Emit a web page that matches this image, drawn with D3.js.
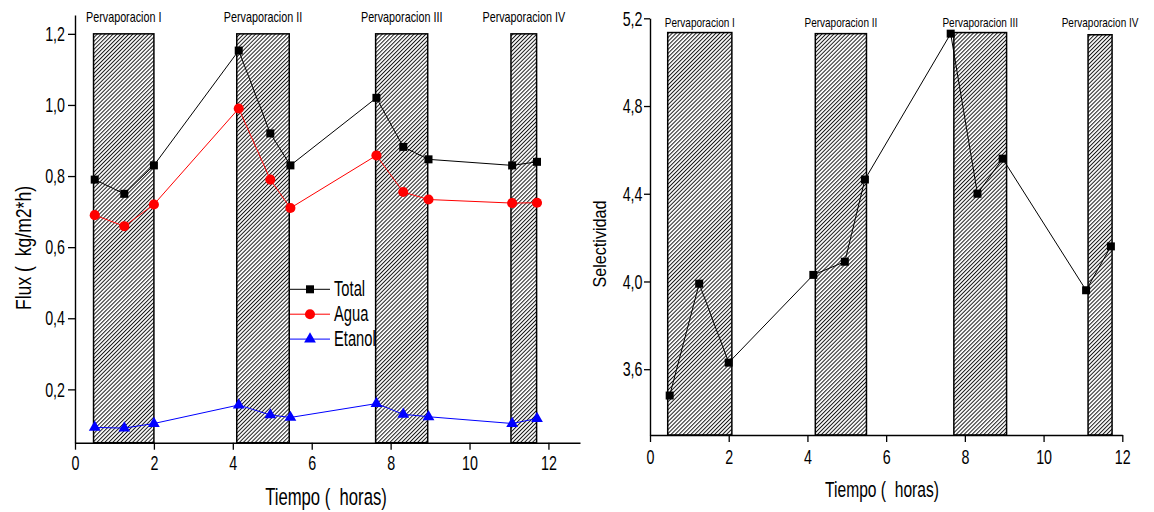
<!DOCTYPE html>
<html>
<head>
<meta charset="utf-8">
<script src="https://cdn.jsdelivr.net/npm/d3@7"></script>
<style>
  body { margin: 0; background: #fff; }
  svg text { font-family: "Liberation Sans", Arial, sans-serif; fill: #000; white-space: pre; }
</style>
</head>
<body>
<svg id="chart" width="1154" height="512"></svg>
<script>
// Sampling times (h) shared by both panels
const tiempo = [0.5, 1.25, 2.0, 4.15, 4.95, 5.46, 7.64, 8.32, 8.96, 11.08, 11.71];
// Permeate flux (kg/m2*h)
const fluxTotal  = [0.79, 0.75, 0.83, 1.153, 0.92, 0.83, 1.02, 0.882, 0.847, 0.83, 0.84];
const fluxAgua   = [0.69, 0.659, 0.72, 0.99, 0.79, 0.71, 0.858, 0.755, 0.734, 0.724, 0.725];
const fluxEtanol = [0.093, 0.091, 0.104, 0.156, 0.128, 0.121, 0.16, 0.13, 0.123, 0.104, 0.118];
// Selectivity
const selectividad = [3.48, 3.99, 3.63, 4.03, 4.09, 4.465, 5.13, 4.40, 4.56, 3.96, 4.16];

// Pervaporation stages (shaded intervals)
const etapas = ["Pervaporacion I", "Pervaporacion II", "Pervaporacion III", "Pervaporacion IV"];
const etapaInicioFlux = [0.47, 4.1, 7.62, 11.05];
const etapaFinFlux    = [2.0, 5.43, 8.94, 11.7];
const etapaTopeFlux   = [1.2, 1.2, 1.2, 1.2];
const etapaInicioSel  = [0.45, 4.2, 7.72, 11.13];
const etapaFinSel     = [2.08, 5.5, 9.06, 11.74];
const etapaTopeSel    = [5.135, 5.13, 5.135, 5.125];

// Ticks
const horasMayor = [0, 2, 4, 6, 8, 10, 12];
const horasMenor = [1, 3, 5, 7, 9, 11];
const fluxMayor = [0.2, 0.4, 0.6, 0.8, 1.0, 1.2];
const fluxMenor = [0.1, 0.3, 0.5, 0.7, 0.9, 1.1];
const selMayor = [3.6, 4.0, 4.4, 4.8, 5.2];
const selMenor = [3.4, 3.8, 4.2, 4.6, 5.0];

const seriesFlux = [
  { nombre: "Total",  valores: fluxTotal,  color: "#000000", marca: "square" },
  { nombre: "Agua",   valores: fluxAgua,   color: "#ff0000", marca: "circle" },
  { nombre: "Etanol", valores: fluxEtanol, color: "#0000ff", marca: "triangle" }
];

const svg = d3.select("#chart");
const coma = d => d3.format(".1f")(d).replace(".", ",");

// hatch fill for the stage intervals
const defs = svg.append("defs");
defs.append("pattern")
  .attr("id", "rayado")
  .attr("patternUnits", "userSpaceOnUse")
  .attr("width", 2.8).attr("height", 10)
  .attr("patternTransform", "rotate(45)")
  .append("line")
  .attr("x1", 0.5).attr("y1", 0).attr("x2", 0.5).attr("y2", 10)
  .attr("stroke", "#1a1a1a").attr("stroke-width", 1.0);

// compress text horizontally (narrow face look), keeping its anchor point
function estrechar(sel, factor) {
  sel.each(function () {
    const x = +(this.getAttribute("x") || 0);
    this.setAttribute("x", x / factor);
    const t = this.getAttribute("transform") || "";
    this.setAttribute("transform", `${t} scale(${factor},1)`.trim());
  });
}

const symbols = {
  square: d3.symbol().type(d3.symbolSquare).size(64),
  circle: d3.symbol().type(d3.symbolCircle).size(80),
  triangle: d3.symbol().type(d3.symbolTriangle).size(60)
};

function dibujarMarca(g, tipo, color, x, y) {
  g.append("path")
    .attr("d", symbols[tipo]())
    .attr("transform", `translate(${x},${y})`)
    .attr("fill", color);
}

function ejes(g, x, y, opts) {
  const fontSize = 21;
  const xg = g.append("g").attr("transform", `translate(0,${y.range()[0]})`);
  xg.call(d3.axisBottom(x).tickValues(horasMenor.filter(v => v <= x.domain()[1])).tickSize(4).tickSizeOuter(0).tickFormat(""));
  xg.call(d3.axisBottom(x).tickValues(horasMayor.filter(v => v <= x.domain()[1])).tickSize(7).tickPadding(opts.xPad).tickSizeOuter(0).tickFormat(d3.format("d")));
  const yg = g.append("g").attr("transform", `translate(${x.range()[0]},0)`);
  yg.call(d3.axisLeft(y).tickValues(opts.menor).tickSize(4).tickSizeOuter(0).tickFormat(""));
  yg.call(d3.axisLeft(y).tickValues(opts.mayor).tickSize(opts.ySize).tickPadding(opts.yPad).tickSizeOuter(0).tickFormat(coma));
  [xg, yg].forEach(a => {
    a.attr("font-size", fontSize).attr("font-family", null);
    a.selectAll("path.domain").attr("stroke", "#000").attr("stroke-width", 1.4);
    a.selectAll(".tick line").attr("stroke", "#000").attr("stroke-width", 1.3);
    a.selectAll(".tick text").attr("fill", "#000");
  });
  estrechar(xg.selectAll(".tick text").filter(function () { return this.textContent !== ""; }), 0.68);
  estrechar(yg.selectAll(".tick text").filter(function () { return this.textContent !== ""; }), 0.68);
}

function etapasRect(g, x, y, ini, fin, tope, yBase, labelY, labelSize) {
  etapas.forEach((nombre, i) => {
    g.append("rect")
      .attr("x", x(ini[i]))
      .attr("y", y(tope[i]))
      .attr("width", x(fin[i]) - x(ini[i]))
      .attr("height", yBase - y(tope[i]))
      .attr("fill", "url(#rayado)")
      .attr("stroke", "#000")
      .attr("stroke-width", 1.5);
    const t = g.append("text")
      .attr("x", x((ini[i] + fin[i]) / 2))
      .attr("y", labelY)
      .attr("text-anchor", "middle")
      .attr("font-size", labelSize)
      .text(nombre);
    estrechar(t, 0.77);
  });
}

function serie(g, x, y, valores, color, marca) {
  const line = d3.line().x((d, i) => x(tiempo[i])).y(d => y(d));
  g.append("path")
    .datum(valores)
    .attr("d", line)
    .attr("fill", "none")
    .attr("stroke", color)
    .attr("stroke-width", 1);
  valores.forEach((v, i) => dibujarMarca(g, marca, color, x(tiempo[i]), y(v)));
}

// ---------- Flux panel ----------
const xF = d3.scaleLinear().domain([0, 12.8]).range([75, 580]);
const yF = d3.scaleLinear().domain([0.05, 1.253]).range([442.7, 15]);
const gF = svg.append("g");
etapasRect(gF, xF, yF, etapaInicioFlux, etapaFinFlux, etapaTopeFlux, yF.range()[0], 22.5, 14);
seriesFlux.forEach(s => serie(gF, xF, yF, s.valores, s.color, s.marca));
ejes(gF, xF, yF, { mayor: fluxMayor, menor: fluxMenor, ySize: 7, yPad: 3, xPad: 5 });

// legend
const leyenda = gF.append("g");
seriesFlux.forEach((s, i) => {
  const ly = 289.3 + i * 24.9;
  leyenda.append("line").attr("x1", 290).attr("x2", 330).attr("y1", ly).attr("y2", ly)
    .attr("stroke", s.color).attr("stroke-width", 1);
  dibujarMarca(leyenda, s.marca, s.color, 310, ly);
  const t = leyenda.append("text").attr("x", 334).attr("y", ly + 6.5)
    .attr("font-size", 22).text(s.nombre);
  estrechar(t, 0.67);
});

// axis titles
const tf = gF.append("text")
  .attr("transform", "translate(31,248) rotate(-90)")
  .attr("text-anchor", "middle").attr("font-size", 22)
  .text("Flux (  kg/m2*h)");
estrechar(tf, 0.8);
const tx1 = gF.append("text").attr("x", 326).attr("y", 505)
  .attr("text-anchor", "middle").attr("font-size", 23.5).text("Tiempo (  horas)");
estrechar(tx1, 0.71);

// ---------- Selectivity panel ----------
const xS = d3.scaleLinear().domain([0, 12]).range([650, 1122.3]);
const yS = d3.scaleLinear().domain([3.3, 5.2]).range([435, 18.3]);
const gS = svg.append("g");
etapasRect(gS, xS, yS, etapaInicioSel, etapaFinSel, etapaTopeSel, yS.range()[0], 27, 13);
serie(gS, xS, yS, selectividad, "#000000", "square");
ejes(gS, xS, yS, { mayor: selMayor, menor: selMenor, ySize: 6, yPad: 1.5, xPad: 7 });

const ts = gS.append("text")
  .attr("transform", "translate(606,244) rotate(-90)")
  .attr("text-anchor", "middle").attr("font-size", 19)
  .text("Selectividad");
estrechar(ts, 0.85);
const tx2 = gS.append("text").attr("x", 882).attr("y", 497)
  .attr("text-anchor", "middle").attr("font-size", 22).text("Tiempo (  horas)");
estrechar(tx2, 0.71);
</script>
</body>
</html>
